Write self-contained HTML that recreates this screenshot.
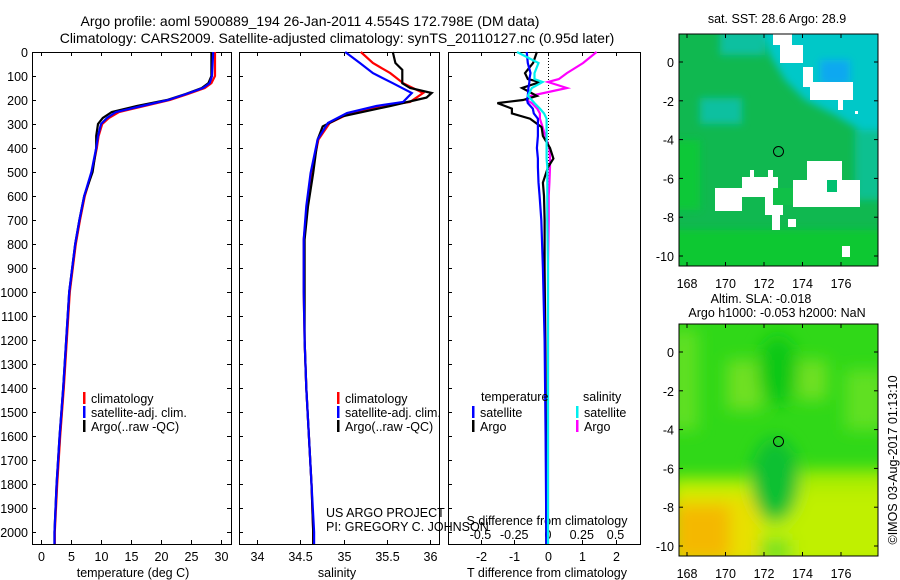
<!DOCTYPE html>
<html><head><meta charset="utf-8"><style>
body{margin:0;background:#fff}
svg{display:block;font-family:"Liberation Sans",sans-serif;}
text{font-size:12.5px;fill:#000}
</style></head><body>
<svg id="fig" width="900" height="580" viewBox="0 0 900 580">
<defs>
<filter id="bl" filterUnits="userSpaceOnUse" x="600" y="250" width="350" height="350"><feGaussianBlur stdDeviation="8"/></filter>
<filter id="bl2" filterUnits="userSpaceOnUse" x="600" y="0" width="350" height="300"><feGaussianBlur stdDeviation="4"/></filter>
<clipPath id="c1"><rect x="679" y="34" width="199" height="232"/></clipPath>
<clipPath id="c2"><rect x="679" y="324" width="199" height="232"/></clipPath>
</defs>
<text x="310" y="26" text-anchor="middle" style="font-size:14px">Argo profile: aoml 5900889_194 26-Jan-2011 4.554S 172.798E (DM data)</text>
<text x="337" y="43" text-anchor="middle" style="font-size:14px">Climatology: CARS2009. Satellite-adjusted climatology: synTS_20110127.nc (0.95d later)</text>

<!-- top map -->
<g clip-path="url(#c1)">
<rect x="679" y="34" width="199" height="232" fill="#10b850"/>
<g filter="url(#bl2)">
<polygon points="760,20 900,20 900,140 860,130 835,115 805,100 785,80 770,55" fill="#00c8c8"/>
<rect x="820" y="60" width="30" height="25" fill="#10a8f0"/>
<rect x="700" y="98" width="42" height="26" fill="#10c0a0"/>
<rect x="720" y="30" width="45" height="25" fill="#10c0a0"/>
<rect x="670" y="230" width="220" height="40" fill="#10c830"/>
<rect x="670" y="140" width="30" height="70" fill="#10c838"/>
<rect x="855" y="130" width="30" height="70" fill="#10c090"/>
</g>
<g fill="#fff">
<rect x="715" y="188" width="27" height="23"/><rect x="742" y="177" width="36" height="20"/>
<rect x="750" y="170" width="4" height="8"/><rect x="768" y="170" width="5" height="8"/>
<rect x="765" y="197" width="18" height="18"/><rect x="772" y="215" width="8" height="15"/>
<rect x="793" y="180" width="67" height="27"/><rect x="807" y="161" width="35" height="20"/>
<rect x="788" y="219" width="8" height="8"/><rect x="842" y="246" width="8" height="11"/>
<rect x="773" y="34" width="19" height="11"/><rect x="780" y="45" width="23" height="18"/>
<rect x="803" y="67" width="10" height="20"/><rect x="810" y="82" width="43" height="18"/>
<rect x="838" y="100" width="5" height="10"/><rect x="855" y="111" width="3" height="3"/>
</g>
<rect x="773" y="188" width="20" height="17" fill="#10c048"/>
<rect x="827" y="180" width="10" height="12" fill="#00c070"/>
</g>
<rect x="679" y="34" width="199" height="232" fill="none" stroke="#000"/>
<circle cx="778.5" cy="151.5" r="5" fill="none" stroke="#000"/>
<text x="777" y="23" text-anchor="middle">sat. SST: 28.6 Argo: 28.9</text>

<!-- bottom map -->
<g clip-path="url(#c2)">
<rect x="679" y="324" width="199" height="232" fill="#30d818"/>
<g filter="url(#bl)">
<rect x="727" y="360" width="35" height="50" fill="#70e020"/>
<rect x="797" y="360" width="30" height="40" fill="#70e020"/>
<rect x="670" y="330" width="28" height="100" fill="#60e020"/>
<rect x="845" y="370" width="40" height="60" fill="#60e020"/>
<rect x="670" y="478" width="230" height="90" fill="#c0f000"/>
<rect x="800" y="470" width="90" height="20" fill="#a8ec00"/>
<rect x="670" y="495" width="90" height="70" fill="#e8e000"/>
<rect x="675" y="505" width="55" height="55" fill="#f4b800"/>
<ellipse cx="775" cy="480" rx="24" ry="42" fill="#10c030"/>
<ellipse cx="778" cy="370" rx="20" ry="35" fill="#10c818"/>
<rect x="760" y="540" width="30" height="20" fill="#70e020"/>
</g>
</g>
<rect x="679" y="324" width="199" height="232" fill="none" stroke="#000"/>
<circle cx="778.5" cy="441.5" r="5" fill="none" stroke="#000"/>
<text x="761" y="303" text-anchor="middle">Altim. SLA: -0.018</text>
<text x="777" y="317" text-anchor="middle">Argo h1000: -0.053 h2000: NaN</text>
<text transform="translate(897,460) rotate(-90)" text-anchor="middle">©IMOS 03-Aug-2017 01:13:10</text>

<g id="plots"></g>
</svg>
<script>
// ---- data: depth (dbar) and values ----
const depthTicks=[0,100,200,300,400,500,600,700,800,900,1000,1100,1200,1300,1400,1500,1600,1700,1800,1900,2000];
const tempTicks=[0,5,10,15,20,25,30];
const salTicks=[34,34.5,35,35.5,36];
const tdiffTicks=[-2,-1,0,1,2];
const sdiffTicks=[-0.5,-0.25,0,0.25,0.5];
const sdiffTickLabels=["-0.5","-0.25","0","0.25","0.5"];

const tDepth=[0,100,130,150,175,200,225,250,275,300,350,400,500,600,700,800,900,1000,1200,1400,1600,1800,2000,2050];
const tClim=[29.0,29.0,28.4,27.3,24.5,21.5,17.2,13.0,11.3,10.2,9.6,9.3,8.5,7.3,6.5,5.8,5.3,4.8,4.3,3.8,3.2,2.7,2.3,2.3];
const tSat=[28.7,28.5,28.1,27.0,24.2,21.2,16.8,12.5,11.0,10.0,9.5,9.2,8.4,7.2,6.4,5.7,5.2,4.7,4.2,3.7,3.1,2.6,2.25,2.25];
const tArgo=[28.4,28.4,27.9,26.8,24.1,21.0,16.0,11.8,10.3,9.5,9.2,9.2,8.6,7.2,6.4,5.7,5.2,4.7,4.2,3.7,3.1,2.6,2.25,2.25];

const sDepth=[0,46,88,130,171,208,225,254,296,365,504,643,782,1000,1200,1400,1600,1800,2000,2050];
const sClim=[35.2,35.34,35.54,35.69,35.92,35.77,35.42,35.08,34.84,34.71,34.63,34.58,34.54,34.54,34.55,34.57,34.6,34.63,34.65,34.65];
const sSat=[35.02,35.19,35.34,35.57,35.79,35.69,35.38,35.04,34.82,34.70,34.62,34.57,34.54,34.54,34.55,34.57,34.6,34.63,34.66,34.66];
const sArgoDepth=[0,46,74,130,150,171,190,225,268,310,365,504,643,782,1000,1200,1400,1600,1800,2000,2050];
const sArgo=[35.57,35.6,35.68,35.68,35.77,36.02,35.96,35.54,34.99,34.76,34.70,34.65,34.59,34.55,34.55,34.55,34.57,34.6,34.63,34.65,34.65];

const dDepth=[0,46,88,113,125,150,183,200,213,236,256,278,313,350,400,444,480,544,600,700,900,1200,1600,2000,2050];
const dtArgo=[-0.33,-0.44,-0.68,-0.6,-0.24,-0.77,-0.33,-0.74,-1.5,-1.07,-1.07,-0.53,-0.19,-0.15,0.06,0.16,0.0,-0.15,-0.12,-0.1,-0.1,-0.08,-0.06,-0.05,-0.05];
const dtSat=[-0.63,-0.6,-0.52,-0.55,-0.55,-0.58,-0.6,-0.62,-0.6,-0.45,-0.42,-0.3,-0.3,-0.3,-0.33,-0.3,-0.3,-0.28,-0.25,-0.2,-0.15,-0.1,-0.07,-0.05,-0.05];
const dsSat=[-0.23,-0.07,-0.1,-0.1,-0.04,-0.12,-0.15,-0.12,-0.1,-0.06,-0.03,-0.01,-0.01,-0.01,-0.01,-0.01,-0.005,-0.005,-0.005,-0.005,0,0,0,0,0];
const dsArgo=[0.36,0.26,0.14,0.08,0.0,0.14,-0.13,-0.16,-0.12,-0.08,-0.06,-0.06,-0.04,-0.02,0.01,0.015,0.015,0.01,0.005,0.005,0,0,0,0,0];

// ---- axes ----
const y0=52,pxPer100=24;
const yD=d=>y0+d*pxPer100/100;
const xT=t=>41+6*t;
const xS=s=>257+86.5*(s-34);
const xDT=t=>548+33.75*t;
const xDS=s=>548+135*s;
const NS='http://www.w3.org/2000/svg';
const g=document.getElementById('plots');
function mk(tag,attrs,parent){const e=document.createElementNS(NS,tag);for(const k in attrs)e.setAttribute(k,attrs[k]);(parent||g).appendChild(e);return e;}
function txt(x,y,s,anchor,parent){const e=mk('text',{x:x,y:y,'text-anchor':anchor||'middle'},parent);e.textContent=s;return e;}

const panels=[{x:32,w:199,name:'temperature-panel'},{x:239,w:200,name:'salinity-panel'},{x:448,w:192,name:'difference-panel'}];
const yBot=544;
panels.forEach((p,i)=>{
  const f=mk('rect',{x:p.x+0.5,y:y0+0.5,width:p.w,height:yBot-y0,fill:'none',stroke:'#000'});
  
  
  depthTicks.forEach(d=>{
    mk('line',{x1:p.x,x2:p.x+4,y1:yD(d)+0.5,y2:yD(d)+0.5,stroke:'#000'});
    if(i==0) mk('line',{x1:p.x+p.w-4,x2:p.x+p.w,y1:yD(d)+0.5,y2:yD(d)+0.5,stroke:'#000'});
  });
});
depthTicks.forEach(d=>{const t=txt(28,yD(d)+5,String(d),'end');
  
  });
function xticks(vals,fx,labels,ly,top){
  vals.forEach((v,k)=>{const x=Math.round(fx(v))+0.5;
    mk('line',{x1:x,x2:x,y1:yBot-4,y2:yBot,stroke:'#000'});
    if(top) mk('line',{x1:x,x2:x,y1:y0,y2:y0+4,stroke:'#000'});
    if(labels){const t=txt(x,ly,labels[k]);
      
      }
  });
}
xticks(tempTicks,xT,tempTicks.map(String),561,true);
xticks(salTicks,xS,salTicks.map(String),561,true);
xticks(tdiffTicks,xDT,tdiffTicks.map(String),561,true);
sdiffTicks.forEach((v,k)=>{const t=txt(xDS(v),539,sdiffTickLabels[k]);
  
  });

let t;
t=txt(133,577,'temperature (deg C)');
t=txt(337,577,'salinity');
t=txt(547,577,'T difference from climatology');
t=txt(547,525,'S difference from climatology');
t=txt(326,517,'US ARGO PROJECT','start');
t=txt(326,531,'PI: GREGORY C. JOHNSON','start');

// dotted zero line
const zl=mk('line',{x1:548.5,x2:548.5,y1:y0,y2:200,stroke:'#000','stroke-dasharray':'1,2'});



function prof(depths,vals,fx,color,name){
  const pts=depths.map((d,k)=>fx(vals[k]).toFixed(1)+','+yD(d).toFixed(1)).join(' ');
  const l=mk('polyline',{points:pts,fill:'none',stroke:color,'stroke-width':2.2});
  
  
}
prof(tDepth,tClim,xT,'#f00','temp-climatology-line');
prof(tDepth,tArgo,xT,'#000','temp-argo-line');
prof(tDepth,tSat,xT,'#00f','temp-satellite-line');
prof(sDepth,sClim,xS,'#f00','sal-climatology-line');
prof(sArgoDepth,sArgo,xS,'#000','sal-argo-line');
prof(sDepth,sSat,xS,'#00f','sal-satellite-line');
prof(dDepth,dsArgo,xDS,'#f0f','sdiff-argo-line');
prof(dDepth,dtArgo,xDT,'#000','tdiff-argo-line');
prof(dDepth,dtSat,xDT,'#00f','tdiff-satellite-line');
prof(dDepth,dsSat,xDS,'#0ee','sdiff-satellite-line');

function leg(x,y,color,label){
  const r=mk('rect',{x:x,y:y-6,width:2.5,height:12,fill:color});
  
  
  const tt=txt(x+8,y+5,label,'start');
  
  
}
[[83,'climatology','#f00'],[83,'satellite-adj. clim.','#00f'],[83,'Argo(..raw -QC)','#000']].forEach((e,k)=>leg(e[0],398+14*k,e[2],e[1]));
[[337,'climatology','#f00'],[337,'satellite-adj. clim.','#00f'],[337,'Argo(..raw -QC)','#000']].forEach((e,k)=>leg(e[0],398+14*k,e[2],e[1]));
t=txt(481,401,'temperature','start');
t=txt(583,401,'salinity','start');
leg(472,412,'#00f','satellite');leg(472,426,'#000','Argo');
leg(576,412,'#0ee','satellite');leg(576,426,'#f0f','Argo');

// map axes
function mapAxes(top,lat0y){
  const lonTicks=[168,170,172,174,176];
  lonTicks.forEach(v=>{const x=687+19.25*(v-168);
    mk('line',{x1:x,x2:x,y1:top,y2:top+4,stroke:'#000'});
    mk('line',{x1:x,x2:x,y1:top+232-4,y2:top+232,stroke:'#000'});
    const tt=txt(x,top+254,String(v));});
  [0,-2,-4,-6,-8,-10].forEach(v=>{const y=lat0y-19.4*v;
    mk('line',{x1:679,x2:683,y1:y,y2:y,stroke:'#000'});
    mk('line',{x1:874,x2:878,y1:y,y2:y,stroke:'#000'});
    const tt=txt(674,y+5,String(v),'end');});
}
mapAxes(34,62);mapAxes(324,352);
</script>
</body></html>
